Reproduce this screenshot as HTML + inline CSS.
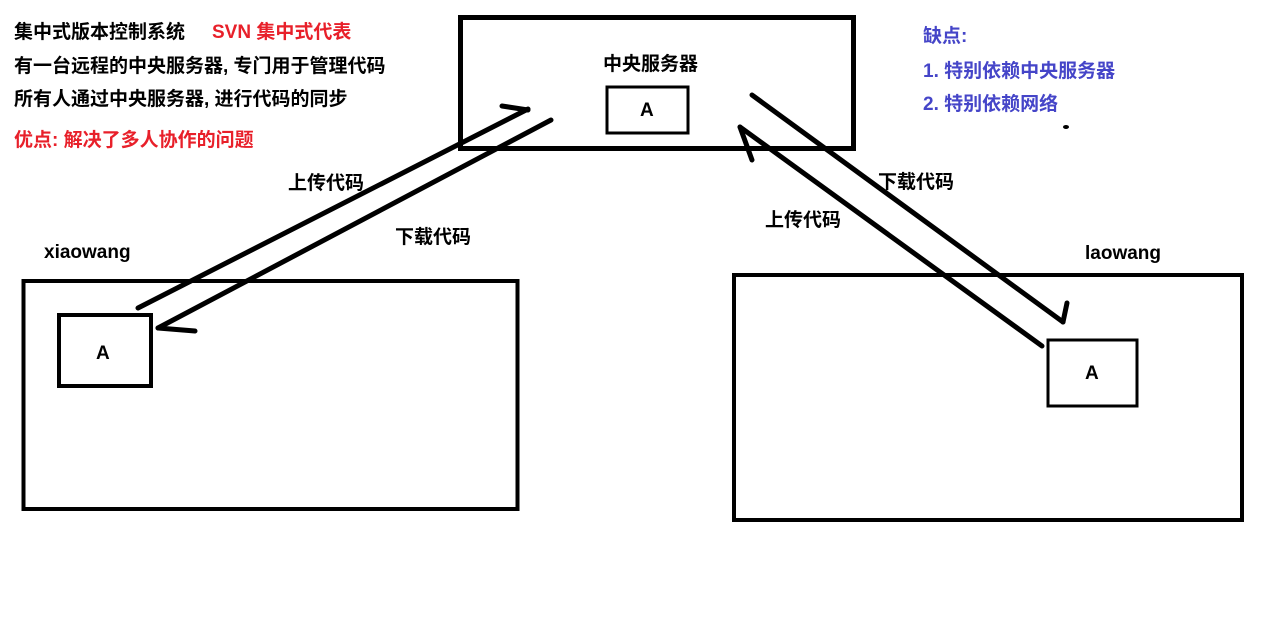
<!DOCTYPE html>
<html><head><meta charset="utf-8"><style>
html,body{margin:0;padding:0;background:#fff;}
svg{display:block;}
text{font-family:"Liberation Sans","Noto Sans CJK SC",sans-serif;font-weight:bold;font-size:19px;}
</style></head><body>
<svg width="1288" height="628" viewBox="0 0 1288 628" xmlns="http://www.w3.org/2000/svg">
<rect width="1288" height="628" fill="#fff"/>
<g fill="none" stroke="#000" stroke-linecap="round">
<rect x="460.5" y="17.5" width="393" height="131" stroke-width="5"/>
<rect x="607" y="87" width="81" height="46" stroke-width="3"/>
<rect x="23.5" y="281" width="494" height="228" stroke-width="4"/>
<rect x="59" y="315" width="92" height="71" stroke-width="4"/>
<rect x="734" y="275" width="508" height="245" stroke-width="4"/>
<rect x="1048" y="340" width="89" height="66" stroke-width="3"/>
<g stroke-width="5">
<line x1="138" y1="308" x2="528" y2="109"/>
<line x1="502" y1="106" x2="528" y2="110"/>
<line x1="551" y1="120" x2="158" y2="328"/>
<line x1="158" y1="328" x2="195" y2="331"/>
<line x1="752" y1="95" x2="1063" y2="322"/>
<line x1="1063" y1="322" x2="1067" y2="303"/>
<line x1="1042" y1="346" x2="740" y2="127"/>
<line x1="740" y1="127" x2="752" y2="160"/>
</g>
</g>
<ellipse cx="1066" cy="127" rx="3" ry="2" fill="#000"/>
<text x="14" y="38">集中式版本控制系统</text>
<text x="212" y="38" fill="#e8202a">SVN 集中式代表</text>
<text x="14" y="72">有一台远程的中央服务器, 专门用于管理代码</text>
<text x="14" y="105">所有人通过中央服务器, 进行代码的同步</text>
<text x="14" y="146" fill="#e8202a">优点: 解决了多人协作的问题</text>
<text x="923" y="42" fill="#4545c8">缺点:</text>
<text x="923" y="77" fill="#4545c8">1. 特别依赖中央服务器</text>
<text x="923" y="110" fill="#4545c8">2. 特别依赖网络</text>
<text x="603" y="70">中央服务器</text>
<text x="640" y="116" font-size="12">A</text>
<text x="288" y="189">上传代码</text>
<text x="395" y="243">下载代码</text>
<text x="765" y="226">上传代码</text>
<text x="878" y="188">下载代码</text>
<text x="44" y="258" font-size="20">xiaowang</text>
<text x="1085" y="259" font-size="20">laowang</text>
<text x="96" y="359" font-size="15">A</text>
<text x="1085" y="379" font-size="14">A</text>
</svg>
</body></html>
